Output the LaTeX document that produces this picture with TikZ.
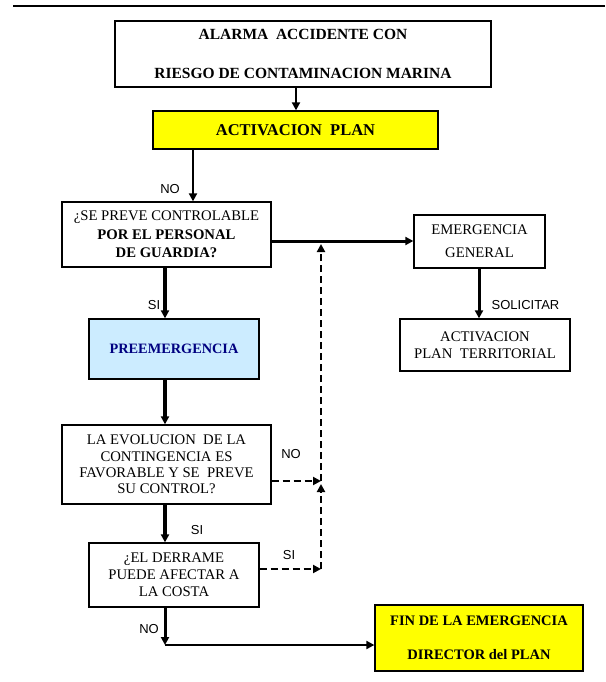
\documentclass[tikz,border=0pt]{standalone}
\usepackage{fontspec}
\setmainfont{Liberation Serif}
\newfontfamily\labelfont{Liberation Sans}
\usetikzlibrary{arrows.meta}
\definecolor{yel}{RGB}{255,255,0}
\definecolor{lblue}{RGB}{204,236,255}
\definecolor{navy}{RGB}{0,0,128}
\begin{document}
\begin{tikzpicture}[x=1pt,y=-1pt,
  box/.style={draw=black, line width=1.3pt, fill=white, inner sep=0pt, align=center,
              font=\fontsize{14.7}{16.5}\selectfont},
  arr/.style={-{Triangle[length=8pt,width=8pt]}, line width=#1},
  arr/.default=2pt,
  dasharr/.style={-{Triangle[length=8pt,width=8pt]}, line width=2.2pt, dash pattern=on 7pt off 4pt},
  lbl/.style={font=\labelfont\fontsize{13}{15}\selectfont, inner sep=0pt}
]
\useasboundingbox (0,0) rectangle (605,682);
\draw[line width=2pt] (13,6) -- (605,6);

\node[box, minimum width=376pt, minimum height=66pt, font=\bfseries\fontsize{15.5}{39}\selectfont]
  (alarma) at (303,54) {ALARMA\ \ ACCIDENTE CON\\RIESGO DE CONTAMINACION MARINA};
\node[box, fill=yel, minimum width=285pt, minimum height=38pt, font=\bfseries\fontsize{16.5}{18}\selectfont]
  (activ) at (295.5,130) {ACTIVACION\ \ PLAN};
\node[box, minimum width=209pt, minimum height=65pt, font=\fontsize{14.7}{18.5}\selectfont]
  (prevee) at (166.5,234.5) {¿SE PREVE CONTROLABLE\\\textbf{POR EL PERSONAL}\\\textbf{DE GUARDIA?}};
\node[box, minimum width=131pt, minimum height=53pt, font=\fontsize{14.7}{23}\selectfont]
  (emerg) at (479.5,241.5) {EMERGENCIA\\GENERAL};
\node[box, minimum width=170pt, minimum height=52pt, font=\fontsize{14.7}{17}\selectfont]
  (territ) at (485,345) {ACTIVACION\\PLAN\ \ TERRITORIAL};
\node[box, fill=lblue, minimum width=170pt, minimum height=60pt, text=navy, font=\bfseries\fontsize{14.3}{16}\selectfont]
  (pre) at (174,349) {PREEMERGENCIA};
\node[box, minimum width=209pt, minimum height=79pt, font=\fontsize{14.7}{16.3}\selectfont]
  (evol) at (166.5,464.5) {LA EVOLUCION\ \ DE LA\\CONTINGENCIA ES\\FAVORABLE Y SE\ \ PREVE\\SU CONTROL?};
\node[box, minimum width=170pt, minimum height=64pt, font=\fontsize{14.7}{17}\selectfont]
  (derrame) at (174,575) {¿EL DERRAME\\PUEDE AFECTAR A\\LA COSTA};
\node[box, fill=yel, minimum width=208pt, minimum height=66pt, font=\bfseries\fontsize{14.5}{34}\selectfont]
  (fin) at (479,638) {FIN DE LA EMERGENCIA\\DIRECTOR del PLAN};

\coordinate (spine) at (165,0);
\coordinate (topc) at (321,244);
\coordinate (midc) at (321,481);
\coordinate (lowc) at (321,569);
\coordinate (corner) at (165,645);

\draw[arr=2pt] (alarma.south -| activ) ++(0.5,0) coordinate (a1) -- (activ.north -| a1);
\draw[arr=2pt] (activ.south -| 193,0) -- (prevee.north -| 193,0);
\draw[arr=4pt] (prevee.south -| spine) -- (pre.north -| spine);
\draw[arr=3pt] (prevee.east |- 0,241) -- (emerg.west |- 0,241);
\draw[arr=3pt] (emerg.south -| 479,0) -- (territ.north -| 479,0);
\draw[arr=4pt] (pre.south -| spine) -- (evol.north -| spine);
\draw[arr=4pt] (evol.south -| spine) -- (derrame.north -| spine);
\draw[arr=3pt] (derrame.south -| spine) -- (corner);
\draw[arr=2pt] (corner) -- (fin.west |- corner);

\draw[dasharr] (evol.east |- midc) -- (midc);
\draw[dasharr] (derrame.east |- lowc) -- (lowc);
\draw[dasharr] (lowc) -- (321,484);
\draw[dasharr] (midc) -- (topc);

\node[lbl] (l1) at (170,189) {NO};
\node[lbl] (l2) at (154,305) {SI};
\node[lbl] (l3) at (525.5,305) {SOLICITAR};
\node[lbl] (l4) at (291,454) {NO};
\node[lbl] (l5) at (197,530) {SI};
\node[lbl] (l6) at (289,555) {SI};
\node[lbl] (l7) at (149,629) {NO};
\end{tikzpicture}
\end{document}
